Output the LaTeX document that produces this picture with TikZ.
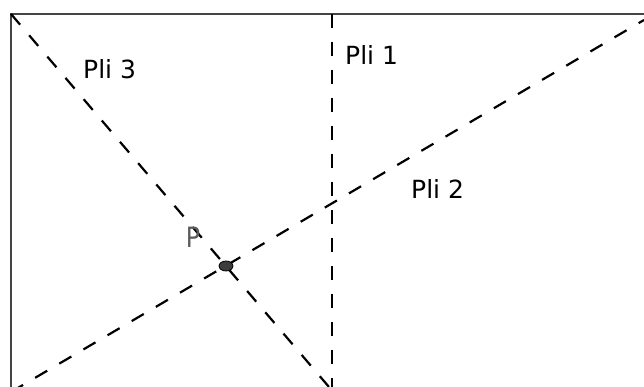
\documentclass[tikz,border=0pt]{standalone}
\usepackage{fontspec}
\setmainfont{DejaVu Sans}
\usetikzlibrary{shapes.geometric}
\definecolor{cframe}{RGB}{68,68,68}
\definecolor{cpoint}{RGB}{60,60,60}
\definecolor{clabel}{RGB}{90,90,90}
\tikzset{foldsheet/.style={x=1pt,y=-1pt,font=\fontsize{25}{29}\selectfont},
  foldline/.style={line width=2.2pt,dash pattern=on 14pt off 14pt},
  edge/.style={cframe,line width=2.6pt}}

\begin{document}
\begin{tikzpicture}[foldsheet]
    \clip (0,0) rectangle (644,387);
    \useasboundingbox (0,0) rectangle (644,387);
    % sheet corners (only two edges are in view)
    \coordinate (tl) at (11,14);
    \coordinate (bl) at (11,400);
    \coordinate (tr) at (660,14);
    \draw[edge] (bl) -- (tl) -- (tr);
    % fold ends
    \coordinate (f1a) at (332,14);
    \coordinate (f1b) at (332,400);
    \coordinate (f2a) at (11,392);
    \coordinate (f2b) at (644,20);
    \coordinate (f3b) at (329,387);
    \draw[foldline] (f1a) -- (f1b);
    \draw[foldline] (f2a) -- (f2b);
    \draw[foldline] (tl) -- (f3b);
    \node[draw=black,fill=cpoint,ellipse,minimum width=14pt,minimum height=10pt,inner sep=0pt,line width=0.8pt]
      (p) at (226,266) {};
    \node[clabel,font=\fontsize{28}{32}\selectfont,xscale=0.85] (plab) at (193,237) {P};
    \node[anchor=base west,inner sep=0pt] (pli1) at (345,65) {Pli 1};
    \node[anchor=base west,inner sep=0pt] (pli2) at (411,199) {Pli 2};
    \node[anchor=base west,inner sep=0pt] (pli3) at (83,79) {Pli 3};
\end{tikzpicture}
\end{document}
